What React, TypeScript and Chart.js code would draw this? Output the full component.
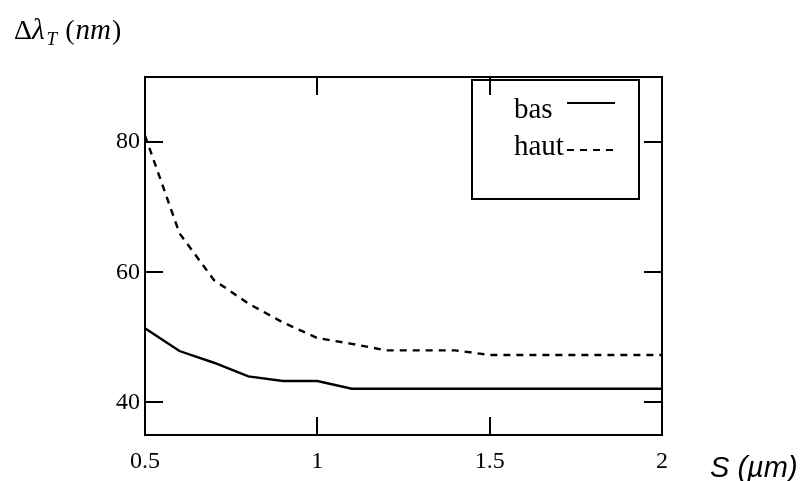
import React, { useEffect, useRef } from "react";
import { Chart, registerables } from "chart.js";

Chart.register(...registerables);

// S (µm) sample positions
const sValues = [0.5, 0.6, 0.7, 0.8, 0.9, 1.0, 1.1, 1.2, 1.3, 1.4, 1.5, 1.6, 1.7, 1.8, 1.9, 2.0];
// Δλ_T (nm) for the two configurations
const basValues = [51.4, 47.9, 46.1, 44.0, 43.3, 43.3, 42.1, 42.1, 42.1, 42.1, 42.1, 42.1, 42.1, 42.1, 42.1, 42.1];
const hautValues = [81, 66, 58.8, 55.2, 52.3, 49.9, 49.0, 48.0, 48.0, 48.0, 47.3, 47.3, 47.3, 47.3, 47.3, 47.3];
const seriesNames = ["bas", "haut"];

const xTicks = [0.5, 1, 1.5, 2];
const yTicks = [40, 60, 80];
const xRange = [0.5, 2];
const yRange = [35, 90];

const SERIF = "'Liberation Serif', 'Times New Roman', serif";
const SANS = "'Liberation Sans', Arial, sans-serif";
const HAUT_DASH = [7, 6];

// Frame, inward tick marks, legend box and axis titles
const decorations = {
  id: "decorations",
  afterDraw(chart: any) {
    const { ctx, chartArea } = chart;
    const { left, right, top, bottom } = chartArea;
    const xs = chart.scales.x;
    const ys = chart.scales.y;
    const tickLen = 18;
    ctx.save();
    ctx.strokeStyle = "#000";
    ctx.lineWidth = 2;
    ctx.setLineDash([]);
    ctx.strokeRect(left, top, right - left, bottom - top);

    ctx.beginPath();
    yTicks.forEach((v) => {
      const py = Math.round(ys.getPixelForValue(v));
      ctx.moveTo(left, py);
      ctx.lineTo(left + tickLen, py);
      ctx.moveTo(right, py);
      ctx.lineTo(right - tickLen, py);
    });
    xTicks.forEach((v) => {
      if (v === xRange[0] || v === xRange[1]) return;
      const px = Math.round(xs.getPixelForValue(v));
      ctx.moveTo(px, bottom);
      ctx.lineTo(px, bottom - tickLen);
      ctx.moveTo(px, top);
      ctx.lineTo(px, top + tickLen);
    });
    ctx.stroke();

    // legend
    const lx = right - 190;
    const ly = top + 3;
    ctx.strokeRect(lx, ly, 167, 119);
    ctx.fillStyle = "#000";
    ctx.font = `29px ${SERIF}`;
    ctx.textBaseline = "alphabetic";
    ctx.textAlign = "left";
    ctx.fillText(seriesNames[0], lx + 42, ly + 38);
    ctx.fillText(seriesNames[1], lx + 42, ly + 75);
    ctx.beginPath();
    ctx.moveTo(lx + 95, ly + 23);
    ctx.lineTo(lx + 143, ly + 23);
    ctx.stroke();
    ctx.setLineDash(HAUT_DASH);
    ctx.beginPath();
    ctx.moveTo(lx + 95, ly + 70);
    ctx.lineTo(lx + 143, ly + 70);
    ctx.stroke();
    ctx.setLineDash([]);

    // y title: Δλ_T (nm)
    const base = 39;
    let x = 14;
    const put = (text: string, font: string, dy = 0, gap = 0) => {
      ctx.font = font;
      ctx.fillText(text, x, base + dy);
      x += ctx.measureText(text).width + gap;
    };
    put("\u0394", `28px ${SERIF}`);
    put("\u03bb", `italic 29px ${SERIF}`, 0, 2);
    put("T", `italic 19px ${SERIF}`, 6, 8);
    put("(", `28px ${SERIF}`, 0, 1);
    put("nm", `italic 29px ${SERIF}`, 0, 1);
    put(")", `28px ${SERIF}`);

    // x title
    ctx.font = `italic 29px ${SANS}`;
    ctx.fillText("S (\u00b5m)", 710, 477);
    ctx.restore();
  },
};

export default function App() {
  const canvasRef = useRef<HTMLCanvasElement | null>(null);

  useEffect(() => {
    const canvas = canvasRef.current;
    if (!canvas) return;
    const chart = new Chart(canvas, {
      type: "line",
      data: {
        datasets: [
          {
            label: seriesNames[0],
            data: sValues.map((x, i) => ({ x, y: basValues[i] })),
            borderColor: "#000",
            borderWidth: 2.4,
            pointRadius: 0,
            tension: 0,
            fill: false,
          },
          {
            label: seriesNames[1],
            data: sValues.map((x, i) => ({ x, y: hautValues[i] })),
            borderColor: "#000",
            borderWidth: 2.4,
            borderDash: HAUT_DASH,
            pointRadius: 0,
            tension: 0,
            fill: false,
          },
        ],
      },
      options: {
        animation: false,
        responsive: false,
        maintainAspectRatio: false,
        layout: { padding: { top: 77, right: 144, left: 0, bottom: 0 } },
        plugins: { legend: { display: false }, tooltip: { enabled: false } },
        scales: {
          x: {
            type: "linear",
            min: xRange[0],
            max: xRange[1],
            afterBuildTicks: (scale: any) => {
              scale.ticks = xTicks.map((value) => ({ value }));
            },
            afterFit: (scale: any) => {
              scale.height = 46;
            },
            grid: { display: false, drawTicks: false },
            border: { display: false },
            ticks: {
              color: "#000",
              font: { family: SERIF, size: 24 },
              padding: 12,
              maxRotation: 0,
              autoSkip: false,
              callback: (v: any) => String(v),
            },
          },
          y: {
            type: "linear",
            min: yRange[0],
            max: yRange[1],
            afterBuildTicks: (scale: any) => {
              scale.ticks = yTicks.map((value) => ({ value }));
            },
            afterFit: (scale: any) => {
              scale.width = 145;
            },
            grid: { display: false, drawTicks: false },
            border: { display: false },
            ticks: {
              color: "#000",
              font: { family: SERIF, size: 24 },
              padding: 5,
              autoSkip: false,
              callback: (v: any) => String(v),
            },
          },
        },
      },
      plugins: [decorations],
    });
    return () => chart.destroy();
  }, []);

  return (
    <div style={{ position: "absolute", left: 0, top: 0, width: 806, height: 481, background: "#fff" }}>
      <canvas ref={canvasRef} width={806} height={481} style={{ display: "block" }} />
    </div>
  );
}
